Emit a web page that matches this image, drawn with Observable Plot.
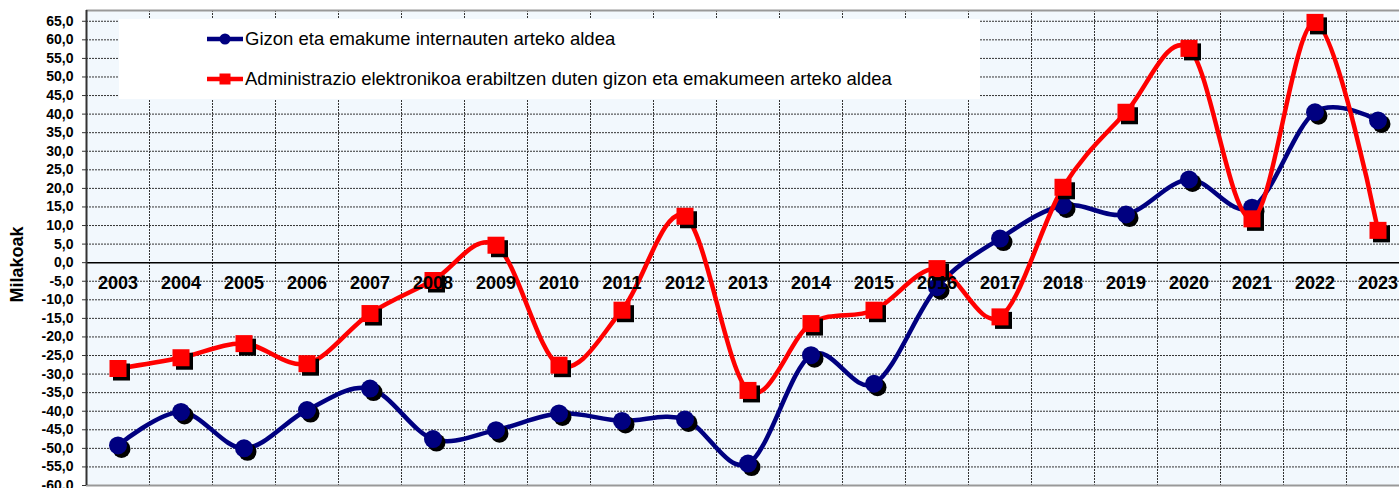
<!DOCTYPE html>
<html>
<head>
<meta charset="utf-8">
<script src="https://cdn.jsdelivr.net/npm/d3@7"></script>
<script src="https://cdn.jsdelivr.net/npm/@observablehq/plot@0.6"></script>
<style>
  html, body { margin: 0; padding: 0; background: #fff; overflow: hidden; }
  #wrap { position: relative; width: 1399px; height: 488px; font-family: Arial, "Liberation Sans", sans-serif; }
  #legend { position: absolute; left: 119px; top: 19px; width: 861px; height: 80px; background: #fff; }
  .item { position: absolute; left: 88px; display: flex; align-items: center; font-size: 18.5px; color: #000; white-space: nowrap; }
  .item svg { display: block; margin-right: 1px; }
</style>
</head>
<body>
<div id="wrap"><div id="legend"></div></div>
<script>
const years = [2003,2004,2005,2006,2007,2008,2009,2010,2011,2012,2013,2014,2015,2016,2017,2018,2019,2020,2021,2022,2023];
const internauts = [-49.2,-40.2,-50.0,-39.7,-33.9,-47.5,-45.1,-40.6,-42.6,-42.2,-54.1,-24.9,-32.6,-6.6,6.5,15.4,13.0,22.4,14.8,40.5,38.3];
const eAdmin = [-28.5,-25.6,-21.8,-27.2,-13.7,-4.8,4.7,-27.6,-12.8,12.5,-34.4,-16.4,-12.8,-1.6,-14.6,20.3,40.5,57.7,11.8,64.7,8.7];
const yTicks = d3.range(-60, 66, 5);
const seriesNames = [
  "Gizon eta emakume internauten arteko aldea",
  "Administrazio elektronikoa erabiltzen duten gizon eta emakumeen arteko aldea"
];
const yLabel = "Milakoak";

const blue = "#000080", red = "#FF0000";
const dataBlue = years.map((x, i) => ({x, v: internauts[i]}));
const dataRed = years.map((x, i) => ({x, v: eAdmin[i]}));
const yMin = -60, yMax = 67.9;
const colBounds = years.slice(0, -1).map(y => y + 0.5);
const gridVals = yTicks.filter(v => v !== 0 && v !== yMin);
const fmt = d => d.toFixed(1).replace(".", ",");

const chart = Plot.plot({
  width: 1399, height: 488,
  marginLeft: 86, marginRight: 0, marginTop: 10, marginBottom: 3,
  style: {fontFamily: "Arial, 'Liberation Sans', sans-serif", background: "transparent", overflow: "visible"},
  x: {type: "linear", domain: [years[0] - 0.5, years[years.length - 1] + 0.5], range: [86, 86 + 63 * years.length], axis: null},
  y: {domain: [yMin, yMax], axis: null},
  marks: [
    Plot.frame({fill: "#F2F8FD", stroke: "none"}),
    Plot.ruleY(gridVals, {stroke: "#333", strokeWidth: 1, strokeDasharray: "2,1"}),
    Plot.ruleX(colBounds, {stroke: "#333", strokeWidth: 1, strokeDasharray: "2,1"}),
    Plot.ruleY([0], {stroke: "#000", strokeWidth: 1.5}),
    Plot.ruleY([yMax], {stroke: "#999", strokeWidth: 2}),
    Plot.ruleY([yMin], {stroke: "#999", strokeWidth: 2}),
    Plot.axisY({ticks: yTicks, tickFormat: fmt, tickSize: 4, tickPadding: 9, fontSize: 14, fontWeight: "bold", stroke: "#333", label: null}),
    Plot.ruleX([years[0] - 0.5], {stroke: "#333", strokeWidth: 2}),
    Plot.line(dataBlue, {x: "x", y: "v", stroke: blue, strokeWidth: 4.5, curve: "cardinal"}),
    Plot.dot(dataBlue, {x: "x", y: "v", r: 9, fill: "#000", dx: 3.5, dy: 3.5}),
    Plot.dot(dataBlue, {x: "x", y: "v", r: 9, fill: blue}),
    Plot.line(dataRed, {x: "x", y: "v", stroke: red, strokeWidth: 4.5, curve: "cardinal"}),
    Plot.dot(dataRed, {x: "x", y: "v", r: 9.6, symbol: "square", fill: "#000", dx: 3.5, dy: 3.5}),
    Plot.dot(dataRed, {x: "x", y: "v", r: 9.6, symbol: "square", fill: red}),
    Plot.text(years, {x: d => d, y: 0, text: d => String(d), dy: 21, fontSize: 18, fontWeight: "bold", fill: "#000"}),
    Plot.text([yLabel], {frameAnchor: "left", textAnchor: "middle", rotate: -90, dx: -69, dy: 16.5, fontSize: 18, fontWeight: "bold", fill: "#000"})
  ]
});
const wrap = document.getElementById("wrap");
wrap.insertBefore(chart, wrap.firstChild);

const legend = document.getElementById("legend");
const legendItems = [
  {name: seriesNames[0], color: blue, shape: "circle", top: 20},
  {name: seriesNames[1], color: red, shape: "square", top: 60}
];
for (const it of legendItems) {
  const div = document.createElement("div");
  div.className = "item";
  div.style.top = (it.top - 11) + "px";
  const sym = it.shape === "circle"
    ? `<circle cx="18" cy="11" r="5.5" fill="${it.color}"/>`
    : `<rect x="12.5" y="5.5" width="11" height="11" fill="${it.color}"/>`;
  div.innerHTML = `<svg width="37" height="22"><line x1="0" x2="36" y1="11" y2="11" stroke="${it.color}" stroke-width="4.5"/>${sym}</svg><span>${it.name}</span>`;
  legend.appendChild(div);
}
</script>
</body>
</html>
